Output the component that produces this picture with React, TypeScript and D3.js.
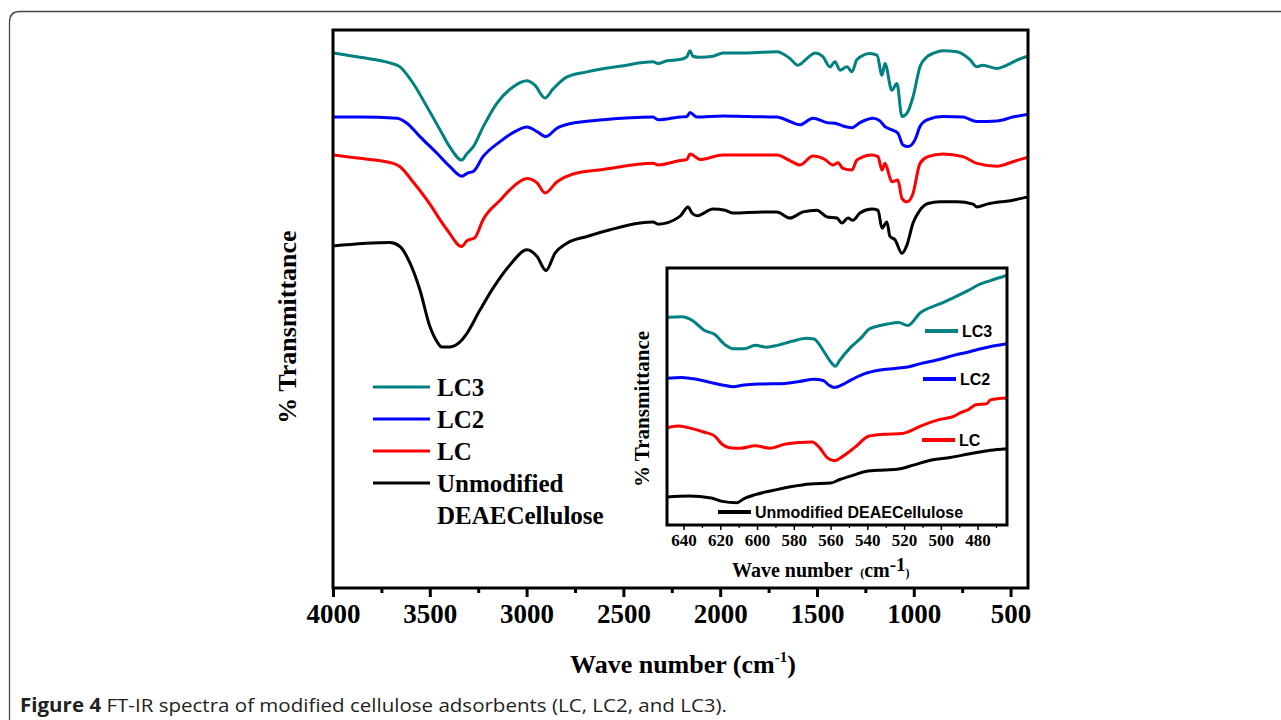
import React, { useEffect, useRef } from 'react'
import * as d3 from 'd3'

const W = 1281
const H = 720

// FT-IR spectra, full range: [wave number (cm-1), % transmittance, arbitrary offset]
const lc3Main: [number, number][] = [
  [4000, 95.9], [3860, 95.1], [3706, 94.1], [3654, 93.4], [3587, 90.5], [3514, 86.2], [3447, 82.1],
  [3396, 79.0], [3335, 76.7], [3309, 77.8], [3277, 79.0], [3225, 82.6], [3153, 86.9], [3070, 89.8],
  [2998, 90.9], [2957, 90.1], [2905, 87.8], [2864, 89.4], [2791, 91.6], [2688, 92.5], [2518, 93.5],
  [2347, 94.3], [2321, 94.0], [2275, 94.5], [2208, 94.7], [2172, 95.2], [2156, 96.3], [2141, 95.3],
  [2104, 95.1], [2037, 95.3], [1986, 95.9], [1862, 95.9], [1707, 96.1], [1640, 94.9], [1598, 93.7],
  [1552, 94.9], [1510, 95.9], [1469, 95.2], [1433, 93.4], [1407, 94.3], [1381, 92.8], [1345, 93.4],
  [1319, 92.5], [1294, 94.7], [1226, 95.8], [1190, 95.5], [1164, 91.9], [1149, 94.0], [1113, 89.2],
  [1087, 90.4], [1061, 84.5], [1035, 85.1], [1004, 88.0], [968, 93.4], [932, 95.2], [901, 95.8],
  [849, 96.3], [777, 96.1], [710, 94.7], [674, 93.4], [643, 93.7], [570, 93.1], [519, 93.7],
  [467, 94.6], [410, 95.3],
]
const lc2Main: [number, number][] = [
  [4000, 84.4], [3860, 84.4], [3669, 84.2], [3618, 83.3], [3551, 80.9], [3463, 77.9], [3396, 75.5],
  [3335, 73.8], [3303, 74.4], [3277, 74.6], [3225, 77.3], [3137, 80.0], [3070, 81.6], [2998, 82.6],
  [2946, 81.8], [2900, 80.9], [2843, 82.4], [2776, 83.2], [2605, 83.9], [2347, 84.4], [2321, 83.9],
  [2208, 84.4], [2172, 84.5], [2156, 85.2], [2120, 84.4], [1986, 84.6], [1862, 84.5], [1707, 84.4],
  [1640, 83.6], [1588, 83.0], [1521, 84.2], [1448, 83.4], [1407, 83.3], [1366, 82.8], [1319, 82.5],
  [1278, 83.4], [1211, 84.2], [1175, 83.7], [1149, 82.7], [1113, 82.1], [1082, 81.5], [1056, 79.4],
  [1030, 79.1], [994, 80.3], [968, 82.7], [932, 83.9], [849, 84.5], [746, 84.4], [674, 83.6],
  [570, 83.7], [488, 84.4], [410, 84.9],
]
const lcMain: [number, number][] = [
  [4000, 77.6], [3860, 77.0], [3690, 76.1], [3654, 75.5], [3587, 72.8], [3514, 69.5], [3411, 64.2],
  [3335, 61.2], [3309, 62.2], [3267, 62.8], [3225, 66.0], [3137, 69.5], [3070, 71.9], [2998, 73.4],
  [2946, 72.6], [2905, 70.8], [2843, 72.8], [2760, 74.2], [2605, 75.0], [2347, 76.1], [2321, 75.8],
  [2208, 76.6], [2172, 76.8], [2156, 77.8], [2104, 76.8], [1986, 77.6], [1862, 77.6], [1707, 77.6],
  [1640, 76.6], [1588, 75.8], [1521, 77.4], [1459, 76.8], [1418, 75.8], [1392, 76.2], [1366, 75.2],
  [1319, 74.9], [1294, 76.7], [1216, 77.6], [1185, 77.3], [1164, 74.9], [1149, 76.1], [1113, 72.8],
  [1082, 73.1], [1061, 69.8], [1035, 69.2], [1004, 70.7], [968, 76.1], [927, 77.3], [849, 77.8],
  [746, 77.3], [674, 76.1], [570, 75.6], [488, 76.4], [410, 77.2],
]
const rawMain: [number, number][] = [
  [4000, 61.3], [3706, 61.9], [3654, 61.2], [3602, 58.2], [3551, 53.4], [3499, 46.8], [3458, 43.9],
  [3439, 43.2], [3396, 43.2], [3344, 44.1], [3309, 45.6], [3241, 49.8], [3174, 53.7], [3086, 57.9],
  [2998, 60.6], [2946, 59.4], [2900, 56.9], [2853, 60.0], [2791, 61.8], [2688, 63.0], [2569, 64.2],
  [2414, 65.4], [2347, 65.6], [2321, 65.2], [2208, 66.6], [2166, 68.3], [2146, 67.2], [2120, 66.7],
  [2037, 67.9], [1975, 67.7], [1934, 67.2], [1779, 67.4], [1707, 67.4], [1640, 66.3], [1572, 67.4],
  [1500, 67.7], [1448, 66.5], [1397, 66.3], [1371, 65.4], [1340, 66.3], [1314, 65.9], [1278, 67.2],
  [1216, 67.9], [1185, 67.7], [1164, 64.5], [1139, 65.6], [1123, 63.0], [1097, 62.4], [1061, 60.0],
  [1035, 61.5], [1004, 65.4], [968, 67.7], [927, 68.9], [865, 69.2], [777, 69.2], [694, 68.8],
  [674, 68.3], [622, 68.8], [488, 69.5], [410, 70.1],
]

// inset: 650 - 460 cm-1
const lc3Inset: [number, number][] = [
  [649, 80.8], [641, 81.0], [635, 79.5], [629, 75.9], [623, 74.1], [617, 69.9], [613, 68.6],
  [607, 68.6], [601, 69.9], [595, 69.2], [589, 69.9], [581, 71.5], [573, 72.7], [569, 72.4],
  [564, 67.9], [560, 63.5], [557.4, 61.8], [555, 64.1], [549, 69.2], [543, 73.1], [539, 76.3],
  [533, 77.6], [529, 78.2], [523, 78.8], [518, 77.6], [511, 82.7], [501, 85.9], [493, 88.5],
  [485, 91.3], [479, 93.6], [473, 95.1], [464, 97.2],
]
const lc2Inset: [number, number][] = [
  [649, 57.1], [641, 57.4], [633, 56.7], [625, 55.4], [619, 54.5], [613, 53.8], [607, 54.5],
  [597, 54.9], [585, 55.1], [577, 55.8], [569, 56.7], [564, 56.2], [561, 54.5], [558, 53.5],
  [555, 54.1], [549, 56.4], [541, 59.0], [533, 60.3], [525, 60.9], [518, 61.5], [511, 62.8],
  [501, 64.4], [493, 66.0], [485, 67.3], [477, 68.8], [464, 70.5],
]
const lcInset: [number, number][] = [
  [649, 37.8], [643, 38.5], [637, 37.8], [629, 36.2], [623, 34.6], [619, 31.4], [615, 30.1],
  [609, 29.9], [601, 30.8], [593, 29.9], [585, 31.4], [577, 32.1], [570, 32.3], [566, 30.1],
  [562, 26.3], [558, 25.0], [553, 26.9], [547, 30.1], [539, 34.6], [531, 35.3], [521, 35.6],
  [518, 36.2], [511, 38.5], [501, 41.0], [493, 42.3], [489, 43.8], [485, 44.9], [481, 46.8],
  [475, 47.2], [473, 48.7], [464, 49.4],
]
const rawInset: [number, number][] = [
  [649, 10.9], [637, 11.3], [625, 10.5], [619, 9.2], [611, 8.7], [607, 10.3], [601, 11.8],
  [591, 13.5], [581, 15.0], [571, 16.0], [560, 16.3], [555, 17.7], [547, 19.5], [541, 20.8],
  [531, 21.4], [523, 21.8], [515, 23.3], [505, 25.3], [495, 26.3], [485, 27.6], [473, 29.1],
  [464, 29.7],
]

const mainTicks = [4000, 3500, 3000, 2500, 2000, 1500, 1000, 500]
const mainMinorTicks = [3750, 3250, 2750, 2250, 1750, 1250, 750]
const insetTicks = [640, 620, 600, 580, 560, 540, 520, 500, 480]
const insetMinorTicks = [630, 610, 590, 570, 550, 530, 510, 490, 470]

const seriesNames = ['LC3', 'LC2', 'LC', 'Unmodified']
const seriesColors = ['#008080', '#0000ff', '#ff0000', '#000000']

const serif = "'Liberation Serif', 'Times New Roman', serif"
const sans = "'Liberation Sans', Arial, sans-serif"

export default function App() {
  const ref = useRef<SVGSVGElement>(null)

  useEffect(() => {
    const svg = d3.select(ref.current)
    svg.selectAll('*').remove()

    svg.append('rect').attr('width', W).attr('height', H).attr('fill', '#fff')

    // page frame (rounded corner top left)
    svg.append('path')
      .attr('d', 'M9.5,720 L9.5,22 Q9.5,11.5 20,11.5 L1281,11.5')
      .attr('fill', 'none')
      .attr('stroke', '#444')
      .attr('stroke-width', 1.3)

    // ---------- main plot ----------
    const left = 333, right = 1028, top = 30, bottom = 588
    const x = d3.scaleLinear().domain([4000, 410]).range([left, right])
    const y = d3.scaleLinear().domain([0, 100]).range([bottom, top])
    const line = d3.line<[number, number]>()
      .x(d => x(d[0]))
      .y(d => y(d[1]))
      .curve(d3.curveMonotoneX)

    const mainData = [lc3Main, lc2Main, lcMain, rawMain]
    svg.append('g').selectAll('path')
      .data(mainData)
      .enter()
      .append('path')
      .attr('d', d => line(d))
      .attr('fill', 'none')
      .attr('stroke', (d, i) => seriesColors[i])
      .attr('stroke-width', 3)
      .attr('stroke-linejoin', 'round')

    // x axis
    const xAxis = svg.append('g')
      .attr('transform', 'translate(0,' + bottom + ')')
      .call(d3.axisBottom(x).tickValues(mainTicks).tickSize(9).tickPadding(7).tickFormat(d3.format('d')))
    xAxis.select('.domain').remove()
    xAxis.selectAll('line').attr('stroke-width', 3)
    xAxis.selectAll('text')
      .attr('font-family', serif)
      .attr('font-weight', 'bold')
      .attr('font-size', 27)
      .attr('fill', '#000')

    const xMinor = svg.append('g')
      .attr('transform', 'translate(0,' + bottom + ')')
      .call(d3.axisBottom(x).tickValues(mainMinorTicks).tickSize(5).tickFormat(() => ''))
    xMinor.select('.domain').remove()
    xMinor.selectAll('text').remove()
    xMinor.selectAll('line').attr('stroke-width', 3)

    svg.append('rect')
      .attr('x', left).attr('y', top)
      .attr('width', right - left).attr('height', bottom - top)
      .attr('fill', 'none').attr('stroke', '#000').attr('stroke-width', 3)

    // axis titles
    const xt = svg.append('text')
      .attr('x', 683).attr('y', 673)
      .attr('text-anchor', 'middle')
      .attr('font-family', serif).attr('font-weight', 'bold').attr('font-size', 26)
    xt.append('tspan').text('Wave number (cm')
    xt.append('tspan').attr('dy', -11).attr('font-size', 15).text('-1')
    xt.append('tspan').attr('dy', 11).text(')')

    svg.append('text')
      .attr('transform', 'translate(296,327) rotate(-90)')
      .attr('text-anchor', 'middle')
      .attr('font-family', serif).attr('font-weight', 'bold').attr('font-size', 26)
      .text('% Transmittance')

    // main legend
    const legendY = [387, 419, 451, 483]
    const lg = svg.append('g')
    seriesNames.forEach((name, i) => {
      lg.append('line')
        .attr('x1', 373).attr('x2', 430)
        .attr('y1', legendY[i]).attr('y2', legendY[i])
        .attr('stroke', seriesColors[i]).attr('stroke-width', 3)
      lg.append('text')
        .attr('x', 437).attr('y', legendY[i] + 9)
        .attr('font-family', serif).attr('font-weight', 'bold').attr('font-size', 25)
        .text(name)
    })
    lg.append('text')
      .attr('x', 437).attr('y', 515 + 9)
      .attr('font-family', serif).attr('font-weight', 'bold').attr('font-size', 25)
      .text('DEAECellulose')

    // ---------- inset ----------
    const il = 667, ir = 1007, it = 268, ib = 525
    const xi = d3.scaleLinear().domain([649, 464]).range([il, ir])
    const yi = d3.scaleLinear().domain([0, 100]).range([ib, it])
    const lineI = d3.line<[number, number]>()
      .x(d => xi(d[0]))
      .y(d => yi(d[1]))
      .curve(d3.curveMonotoneX)

    svg.append('rect')
      .attr('x', il).attr('y', it).attr('width', ir - il).attr('height', ib - it)
      .attr('fill', '#fff')

    const insetData = [lc3Inset, lc2Inset, lcInset, rawInset]
    svg.append('g').selectAll('path')
      .data(insetData)
      .enter()
      .append('path')
      .attr('d', d => lineI(d))
      .attr('fill', 'none')
      .attr('stroke', (d, i) => seriesColors[i])
      .attr('stroke-width', 3)
      .attr('stroke-linejoin', 'round')

    const xiAxis = svg.append('g')
      .attr('transform', 'translate(0,' + ib + ')')
      .call(d3.axisBottom(xi).tickValues(insetTicks).tickSize(5).tickPadding(4).tickFormat(d3.format('d')))
    xiAxis.select('.domain').remove()
    xiAxis.selectAll('line').attr('stroke-width', 1.5)
    xiAxis.selectAll('text')
      .attr('font-family', serif)
      .attr('font-weight', 'bold')
      .attr('font-size', 17)
      .attr('fill', '#000')
    const xiMinor = svg.append('g')
      .attr('transform', 'translate(0,' + ib + ')')
      .call(d3.axisBottom(xi).tickValues(insetMinorTicks).tickSize(3).tickFormat(() => ''))
    xiMinor.select('.domain').remove()
    xiMinor.selectAll('text').remove()
    xiMinor.selectAll('line').attr('stroke-width', 1.2)

    svg.append('rect')
      .attr('x', il).attr('y', it).attr('width', ir - il).attr('height', ib - it)
      .attr('fill', 'none').attr('stroke', '#000').attr('stroke-width', 3)

    const xit = svg.append('text')
      .attr('x', 732).attr('y', 577)
      .attr('font-family', serif).attr('font-weight', 'bold').attr('font-size', 20)
    xit.append('tspan').text('Wave number ')
    xit.append('tspan').attr('font-size', 12).text('\u00a0(')
    xit.append('tspan').text('cm')
    xit.append('tspan').attr('dy', -6).attr('font-size', 19).text('-1')
    xit.append('tspan').attr('dy', 6).attr('font-size', 12).text(')')

    svg.append('text')
      .attr('transform', 'translate(649,409) rotate(-90)')
      .attr('text-anchor', 'middle')
      .attr('font-family', serif).attr('font-weight', 'bold').attr('font-size', 21)
      .text('% Transmittance')

    // inset legend
    const insetLegend = [
      { x1: 925, y: 331, label: 'LC3' },
      { x1: 923, y: 379, label: 'LC2' },
      { x1: 922, y: 440, label: 'LC' },
      { x1: 718, y: 512, label: 'Unmodified DEAECellulose' },
    ]
    insetLegend.forEach((d, i) => {
      svg.append('line')
        .attr('x1', d.x1).attr('x2', d.x1 + 33)
        .attr('y1', d.y).attr('y2', d.y)
        .attr('stroke', seriesColors[i]).attr('stroke-width', 4)
      svg.append('text')
        .attr('x', d.x1 + 37).attr('y', d.y + 6)
        .attr('font-family', sans).attr('font-weight', 'bold').attr('font-size', 16)
        .text(d.label)
    })

    // caption
    const cap = svg.append('text')
      .attr('x', 20).attr('y', 712)
      .attr('font-family', "'Open Sans', 'Noto Sans', sans-serif").attr('font-size', 19)
      .attr('textLength', 707).attr('lengthAdjust', 'spacingAndGlyphs')
      .attr('fill', '#231f20')
    cap.append('tspan').attr('font-weight', 'bold').text('Figure 4')
    cap.append('tspan').text(' FT-IR spectra of modified cellulose adsorbents (LC, LC2, and LC3).')
  }, [])

  return (
    <div style={{ position: 'fixed', left: 0, top: 0 }}>
      <svg ref={ref} width={W} height={H}></svg>
    </div>
  )
}
